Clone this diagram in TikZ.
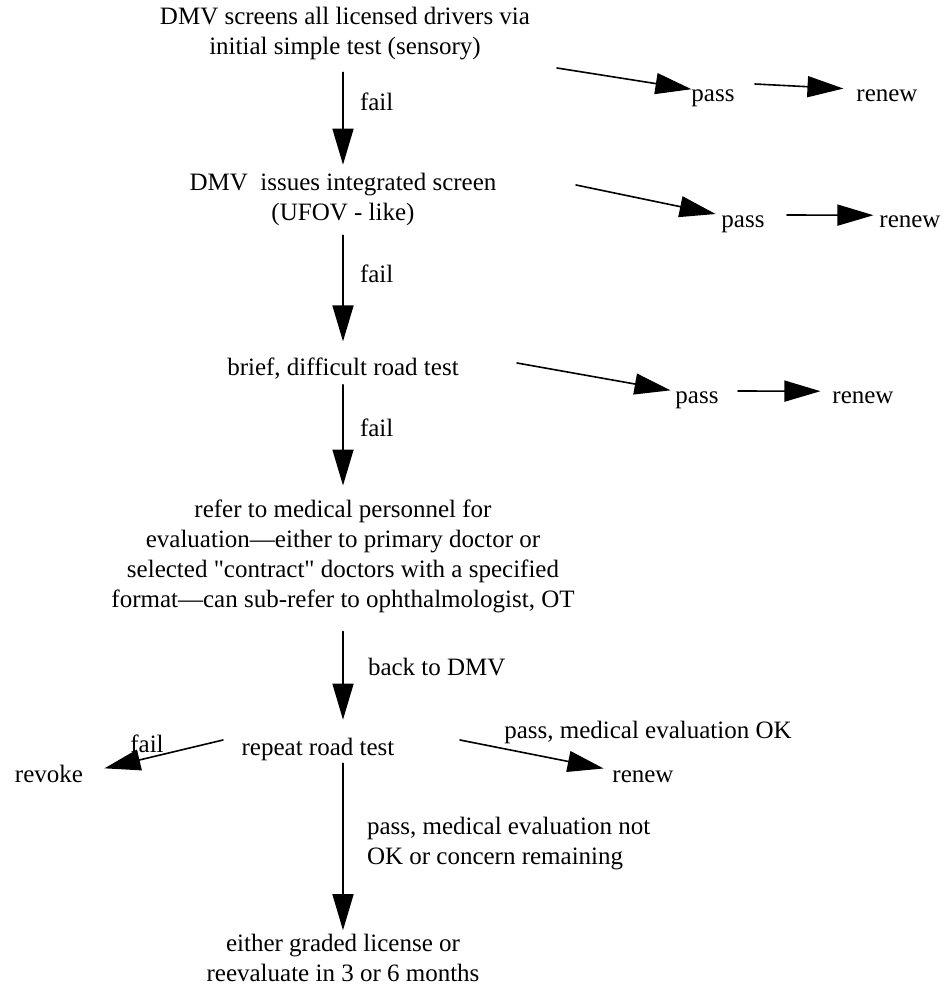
\documentclass[tikz,border=0pt]{standalone}
\usepackage{fontspec}
\setmainfont{Liberation Serif}[Ligatures=TeXOff]
\usetikzlibrary{arrows.meta}
\begin{document}
\begin{tikzpicture}[x=1pt, y=-1pt, font=\fontsize{25}{30}\selectfont, line join=round, line cap=round, >={Triangle[length=36pt,width=21pt]}]
	\tikzset{box/.style={inner sep=0pt, outer sep=0pt, align=center},
		txt/.style={inner sep=0pt, outer sep=0pt, anchor=base},
		lbl/.style={inner sep=0pt, outer sep=0pt, anchor=base west, align=left},
		arr/.style={->, line width=1.6pt}}
	\useasboundingbox (0,0) rectangle (946,999);
	% main column
	\node[box] (dmv) at (345,34) {DMV screens all licensed drivers via\\initial simple test (sensory)};
	\node[box] (integ) at (343,199) {DMV\ \ issues integrated screen\\(UFOV - like)};
	\node[txt] (road) at (343,375) {brief, difficult road test};
	\node[box] (medical) at (343,556) {refer to medical personnel for\\evaluation—either to primary doctor or\\selected "contract" doctors with a specified\\format—can sub-refer to ophthalmologist, OT};
	\node[txt] (repeat) at (318,755) {repeat road test};
	\node[box] (graded) at (343,958) {either graded license or\\reevaluate in 3 or 6 months};
	% right side
	\node[txt] (pass1) at (713,101) {pass};
	\node[txt] (renew1) at (887,101) {renew};
	\node[txt] (pass2) at (743,227) {pass};
	\node[txt] (renew2) at (910,227) {renew};
	\node[txt] (pass3) at (697,403) {pass};
	\node[txt] (renew3) at (863,403) {renew};
	\node[txt] (revoke) at (49,782) {revoke};
	\node[txt] (renew4) at (643,782) {renew};
	% labels
	\node[lbl] (fail1) at (360,110) {fail};
	\node[lbl] (fail2) at (360,282) {fail};
	\node[lbl] (fail3) at (360,436) {fail};
	\node[lbl] (back) at (368,675) {back to DMV};
	\node[txt] (fail4) at (147,752) {fail};
	\node[txt] (passok) at (648,738) {pass, medical evaluation OK};
	\node[lbl] (passnot) at (367,864) {pass, medical evaluation not\\OK or concern remaining};
	% free starts
	\coordinate (s1) at (557,68);
	\coordinate (t1) at (755,84);
	\coordinate (s2) at (576,185);
	\coordinate (t2) at (787,215);
	\coordinate (s3) at (517,363);
	\coordinate (t3) at (738,391);
	\coordinate (f5) at (223,740);
	\coordinate (r5) at (460,740);
	% connectors
	\draw[arr, shorten <=12pt, shorten >=8pt] (dmv.south -| integ) -- (integ.north);
	\draw[arr, shorten <=10pt, shorten >=16pt] (integ.south) -- (road.north);
	\draw[arr, shorten <=6pt, shorten >=14pt] (road.south) -- (medical.north);
	\draw[arr, shorten <=19pt, shorten >=18pt] (medical.south) -- (repeat.north -| medical);
	\draw[arr, shorten <=3pt, shorten >=4pt] (repeat.south -| graded) -- (graded.north);
	\draw[arr] (s1) -- (pass1.north west);
	\draw[arr, shorten >=13pt] (t1) -- (renew1.north west);
	\draw[arr, shorten >=6pt] (s2) -- (pass2.north west);
	\draw[arr, shorten >=6pt] (t2) -- (renew2.north west);
	\draw[arr, shorten >=5pt] (s3) -- (pass3.north west);
	\draw[arr, shorten >=12pt] (t3) -- (renew3.north west);
	\draw[arr, shorten >=22pt] (f5) -- (revoke.east);
	\draw[arr, shorten >=9pt] (r5) -- (renew4.north west);
\end{tikzpicture}
\end{document}
